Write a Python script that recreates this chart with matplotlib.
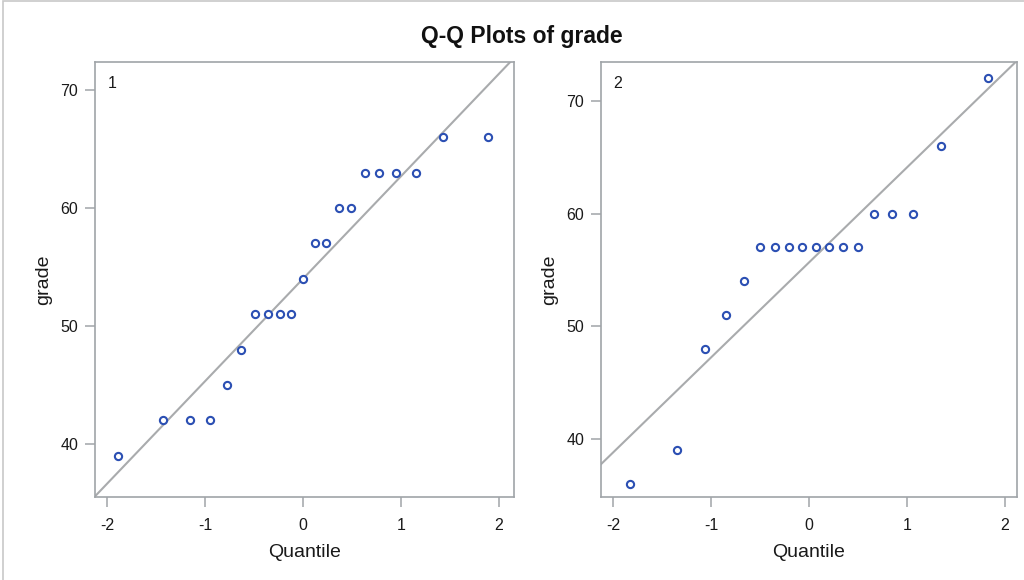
import matplotlib
matplotlib.use("Agg")
import matplotlib.pyplot as plt
from matplotlib.patches import Rectangle

plt.rcParams['font.family'] = ['Liberation Sans', 'DejaVu Sans']

# Panel 1 data
q1 = [-1.890, -1.429, -1.157, -0.952, -0.780, -0.629, -0.491, -0.362, -0.238, -0.118, 0.0,
      0.118, 0.238, 0.362, 0.491, 0.629, 0.780, 0.952, 1.157, 1.429, 1.890]
g1 = [39, 42, 42, 42, 45, 48, 51, 51, 51, 51, 54, 57, 57, 60, 60, 63, 63, 63, 63, 66, 66]
mu1, sigma1 = 54.0, 8.69

# Panel 2 data
q2 = [-1.822, -1.347, -1.063, -0.846, -0.664, -0.501, -0.350, -0.207, -0.069,
      0.069, 0.207, 0.350, 0.501, 0.664, 0.846, 1.063, 1.347, 1.822]
g2 = [36, 39, 48, 51, 54, 57, 57, 57, 57, 57, 57, 57, 57, 60, 60, 60, 66, 72]
mu2, sigma2 = 55.67, 8.44

panels = [("1", q1, g1, mu1, sigma1, (-2.122, 2.153), (35.5, 72.37),
           [0.0928, 0.1431, 0.4092, 0.75]),
          ("2", q2, g2, mu2, sigma2, (-2.122, 2.122), (34.85, 73.46),
           [0.5869, 0.1431, 0.4063, 0.75])]

xticks = [-2, -1, 0, 1, 2]
yticks = [40, 50, 60, 70]

spine_c = '#a0a4a8'
marker_c = '#2b4fb3'
line_c = '#a9abad'
text_c = '#1a1a1a'

fig = plt.figure(figsize=(10.24, 5.8), dpi=100)
fig.patches.append(Rectangle((3/1024, -0.01), 1.05, 1 - 1/580 + 0.01, transform=fig.transFigure,
                             fill=False, edgecolor='#c8c8c8', lw=1.2))

for label, q, g, mu, sd, xl, yl, pos in panels:
    ax = fig.add_axes(pos)
    ax.axline((0, mu), slope=sd, color=line_c, lw=1.5, zorder=1)
    ax.plot(q, g, linestyle='none', marker='o', markersize=5.2,
            markerfacecolor='white', markeredgecolor=marker_c, markeredgewidth=1.5, zorder=2)
    ax.set_xlim(*xl)
    ax.set_ylim(*yl)
    ax.set_xticks(xticks)
    ax.set_xticklabels([str(t) for t in xticks])
    ax.set_yticks(yticks)
    ax.set_yticklabels([str(t) for t in yticks])
    for s in ax.spines.values():
        s.set_color(spine_c)
        s.set_linewidth(1.2)
    ax.tick_params(direction='out', length=7, width=1.1, color=spine_c,
                   labelsize=11.5, labelcolor=text_c, pad=5)
    ax.tick_params(axis='x', pad=8)
    ax.set_xlabel('Quantile', fontsize=14, color=text_c, labelpad=8)
    ax.set_ylabel('grade', fontsize=14, color=text_c, labelpad=6)
    ax.text(0.03, 0.968, label, transform=ax.transAxes, ha='left', va='top',
            fontsize=11.5, color=text_c)

fig.text(0.51, 1 - 37/580, 'Q-Q Plots of grade', ha='center', va='center',
         fontsize=16.5, fontweight='bold', color='#111111')

fig.savefig('out.png', dpi=100)
